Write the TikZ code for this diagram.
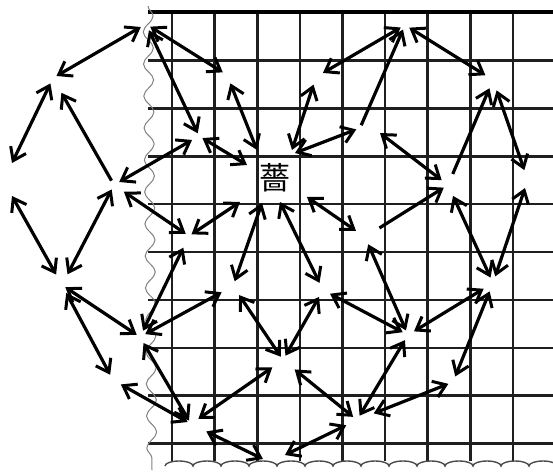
\documentclass[tikz,border=0pt]{standalone}
\usepackage{fontspec}
\newfontfamily\cjk{Noto Sans CJK SC}
\usetikzlibrary{arrows.meta,decorations.pathmorphing}
\begin{document}
\begin{tikzpicture}[x=1pt,y=-1pt,
  >={Straight Barb[length=12pt,width=17pt,line width=3pt]},
  gridl/.style={line width=2.6pt, black!88},
  con/.style={line width=3.2pt, <->},
  one/.style={line width=3.2pt, ->},
]
\useasboundingbox (0,0) rectangle (553,473);
% grid
\foreach \i in {0,...,8} \draw[gridl] ({172+42.6*\i},12) -- ({172+42.6*\i},461);
\foreach \j in {1,...,9} \draw[gridl] (148,{12.5+47.9*\j}) -- (553,{12.5+47.9*\j});
\draw[line width=4.2pt] (148,12) -- (553,12);
\draw[black!70, line width=1.4pt] (165,466) \foreach \k in {1,...,14} { arc[start angle=180, end angle=0, x radius=14pt, y radius=5pt] };
\draw[black!50, line width=1pt, decorate, decoration={snake, segment length=32pt, amplitude=5pt}] (148,6) -- (152,470);
% hubs
\coordinate (A) at (146,24);
\coordinate (B) at (53,78);
\coordinate (C1) at (12,163);
\coordinate (C2) at (12,196);
\coordinate (D) at (114,185);
\coordinate (E) at (62,285);
\coordinate (F) at (140,337);
\coordinate (G) at (113,380);
\coordinate (H) at (191,424);
\coordinate (I1) at (263,459);
\coordinate (I2) at (285,455);
\coordinate (J) at (283,360);
\coordinate (K) at (233,286);
\coordinate (L) at (189,236);
\coordinate (M) at (199,136);
\coordinate (N) at (227,75);
\coordinate (P) at (316,77);
\coordinate (Q) at (405,25);
\coordinate (R) at (360,128);
\coordinate (R2) at (380,133);
\coordinate (S) at (493,80);
\coordinate (T1) at (525,172);
\coordinate (T2) at (525,188);
\coordinate (U) at (448,185);
\coordinate (V) at (493,283);
\coordinate (W) at (408,335);
\coordinate (X) at (323,290);
\coordinate (Y) at (365,237);
\coordinate (Z) at (357,420);
\coordinate (AA) at (453,382);
% character and its arrow ends
\node[font=\cjk\fontsize{31}{31}\selectfont, inner sep=0pt] (O) at (275,178) {薔};
\coordinate (oM) at (247,165);
\coordinate (oN) at (257,150);
\coordinate (oP) at (292,150);
\coordinate (oR) at (295,153);
\coordinate (oL) at (240,202);
\coordinate (oK) at (262,203);
\coordinate (oX) at (280,202);
\coordinate (oY) at (307,197);
% connectors
\draw[con, shorten <=6pt, shorten >=4pt] (A) -- (B);
\draw[con, shorten <=6pt] (B) -- (C1);
\draw[con, shorten >=12pt] (C2) -- (E);
\draw[one, shorten <=5pt, shorten >=17pt] (D) -- (B);
\draw[con, shorten <=6pt, shorten >=8pt] (D) -- (M);
\draw[con, shorten <=5pt, shorten >=12pt] (D) -- (E);
\draw[con, shorten <=12pt, shorten >=4pt] (D) -- (L);
\draw[con, shorten <=5pt, shorten >=5pt] (A) -- (N);
\draw[con, shorten <=7pt, shorten >=3pt] (A) -- (M);
\draw[con, shorten <=4pt] (M) -- (oM);
\draw[con, shorten <=9pt] (N) -- (oN);
\draw[con, shorten <=8pt] (P) -- (oP);
\draw[con, shorten <=4pt] (R) -- (oR);
\draw[one, shorten <=3pt, shorten >=5pt] (R) -- (Q);
\draw[con, shorten <=8pt, shorten >=5pt] (P) -- (Q);
\draw[con, shorten <=5pt, shorten >=9pt] (Q) -- (S);
\draw[one, shorten <=12pt, shorten >=9pt] (U) -- (S);
\draw[con, shorten <=11pt, shorten >=2pt] (S) -- (T1);
\draw[con, shorten >=8pt] (R2) -- (U);
\draw[one, shorten <=17pt, shorten >=5pt] (Y) -- (U);
\draw[con, shorten <=12pt, shorten >=6pt] (U) -- (V);
\draw[con, shorten >=7pt] (T2) -- (V);
\draw[con, shorten <=11pt, shorten >=7pt] (V) -- (W);
\draw[con, shorten <=9pt, shorten >=6pt] (V) -- (AA);
\draw[con, shorten <=5pt, shorten >=18pt] (AA) -- (Z);
\draw[con, shorten <=6pt, shorten >=5pt] (W) -- (Z);
\draw[con, shorten <=8pt, shorten >=5pt] (Y) -- (W);
\draw[con, shorten <=8pt, shorten >=6pt] (X) -- (W);
\draw[con, shorten >=8pt] (oX) -- (X);
\draw[con, shorten >=11pt] (oY) -- (Y);
\draw[con, shorten <=8pt, shorten >=5pt] (X) -- (J);
\draw[con, shorten <=15pt, shorten >=5pt] (J) -- (Z);
\draw[con, shorten <=12pt] (Z) -- (I2);
\draw[con, shorten <=17pt] (H) -- (I1);
\draw[con, shorten <=13pt, shorten >=9pt] (J) -- (H);
\draw[con, shorten <=11pt, shorten >=4pt] (K) -- (J);
\draw[con, shorten >=5pt] (oK) -- (K);
\draw[con, shorten >=3pt] (oL) -- (L);
\draw[con, shorten <=6pt, shorten >=13pt] (F) -- (K);
\draw[con, shorten <=7pt, shorten >=13pt] (F) -- (L);
\draw[con, shorten <=4pt, shorten >=4pt] (E) -- (F);
\draw[con, shorten <=9pt, shorten >=6pt] (E) -- (G);
\draw[con, shorten <=9pt, shorten >=4pt] (G) -- (H);
\draw[con, shorten <=7pt, shorten >=4pt] (F) -- (H);
\end{tikzpicture}
\end{document}
